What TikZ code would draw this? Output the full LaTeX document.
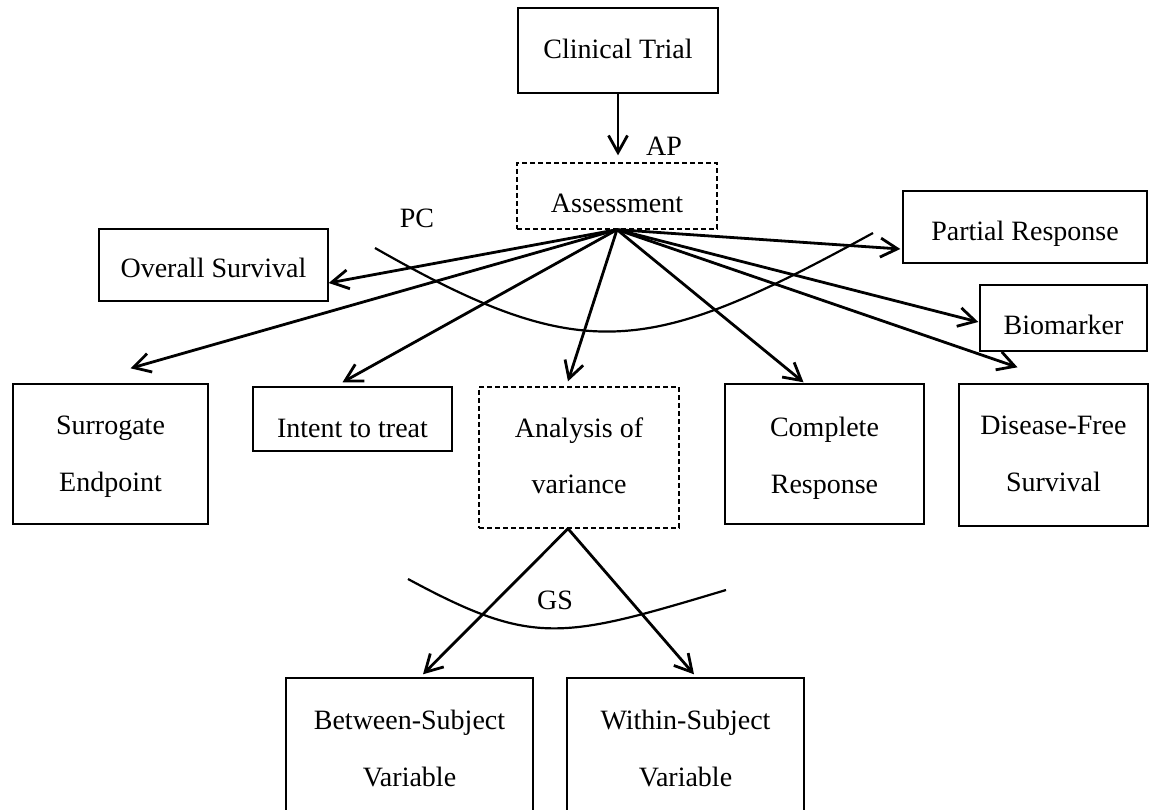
\documentclass[tikz,border=0pt]{standalone}
\usepackage{fontspec}
\setmainfont{Liberation Serif}
\usetikzlibrary{arrows.meta,calc}

% two stacked lines, baseline on the first one
\newcommand{\twoline}[2]{\begin{tabular}[t]{@{}c@{}}#1\\#2\end{tabular}}

\begin{document}
\begin{tikzpicture}[x=1pt,y=-1pt,
  every node/.style={font=\fontsize{28}{57}\selectfont, inner sep=0pt},
  box/.style={draw, line width=1.4pt},
  dbox/.style={draw, line width=1.3pt, dash pattern=on 5pt off 3pt},
  arr/.style={line width=2.8pt, -{Straight Barb[length=17pt,width=19pt]}},
  cut/.style={line width=2.2pt},
  tag/.style={inner sep=0pt}
]
\useasboundingbox (0,0) rectangle (1152,810);
\clip (0,0) rectangle (1152,810);

% top of the tree
\node[box, minimum width=200pt, text height=51pt, text depth=34pt] (ct) at (618,50.5) {Clinical Trial};
\node[dbox, minimum width=200pt, text height=50pt, text depth=16pt] (assess) at (617,196) {Assessment};

% outcomes around the assessment
\node[box, minimum width=229pt, text height=49pt, text depth=23pt] (ovs) at (213.5,265) {Overall Survival};
\node[box, minimum width=244pt, text height=50pt, text depth=22pt] (pr) at (1025,227) {Partial Response};
\node[box, minimum width=167pt, text height=50pt, text depth=16pt] (bio) at (1063.5,318) {Biomarker};
\node[box, minimum width=199pt, text height=50pt, text depth=14pt] (itt) at (352.5,419) {Intent to treat};
\node[box, minimum width=195pt, text height=51pt, text depth=89pt] (surr) at (110.5,454) {\twoline{Surrogate}{Endpoint}};
\node[dbox, minimum width=200pt, text height=50pt, text depth=91pt] (anova) at (579,457.5) {\twoline{Analysis of}{variance}};
\node[box, minimum width=199pt, text height=52pt, text depth=88pt] (comp) at (824.5,454) {\twoline{Complete}{Response}};
\node[box, minimum width=189pt, text height=51pt, text depth=91pt] (dfs) at (1053.5,455) {\twoline{Disease-Free}{Survival}};

% variables under the analysis of variance
\node[box, minimum width=247pt, text height=51pt, text depth=93pt] (bs) at (409.5,750) {\twoline{Between-Subject}{Variable}};
\node[box, minimum width=237pt, text height=51pt, text depth=93pt] (ws) at (685.5,750) {\twoline{Within-Subject}{Variable}};

% labels
\node[tag] (ap) at (664,146) {AP};
\node[tag] (pc) at (417,218) {PC};
\node[tag] (gs) at (555,600) {GS};

% connectors
\coordinate (hub) at (assess.south);
\coordinate (apex) at ($(anova.south)+(-11,0)$);
\draw[arr] (ct.south) -- ($(assess.north)+(1,-7)$);
\draw[arr] (hub) -- ($(ovs.east)+(0,18)$);
\draw[arr] (hub) -- ($(surr.north)+(20,-15)$);
\draw[arr] (hub) -- ($(itt.north)+(-10,-4)$);
\draw[arr] (hub) -- ($(anova.north)+(-11,-5)$);
\draw[arr] (hub) -- ($(comp.north)+(-21,-1)$);
\draw[arr] (hub) -- ($(dfs.north)+(-36,-16)$);
\draw[arr] (hub) -- ($(bio.west)+(-1,4)$);
\draw[arr] (hub) -- ($(pr.west)+(-2,22)$);
\draw[arr] (apex) -- ($(bs.north)+(13.5,-3)$);
\draw[arr] (apex) -- ($(ws.north)+(8.5,-3)$);

% cut arcs
\coordinate (pcA) at (375,248);
\coordinate (pcB) at (873,233);
\draw[cut] (pcA) .. controls (585,368) and (650,355) .. (pcB);
\coordinate (gsA) at (408,579);
\coordinate (gsB) at (726,590);
\draw[cut] (gsA) .. controls (533,646.5) and (561,639.5) .. (gsB);
\end{tikzpicture}
\end{document}
